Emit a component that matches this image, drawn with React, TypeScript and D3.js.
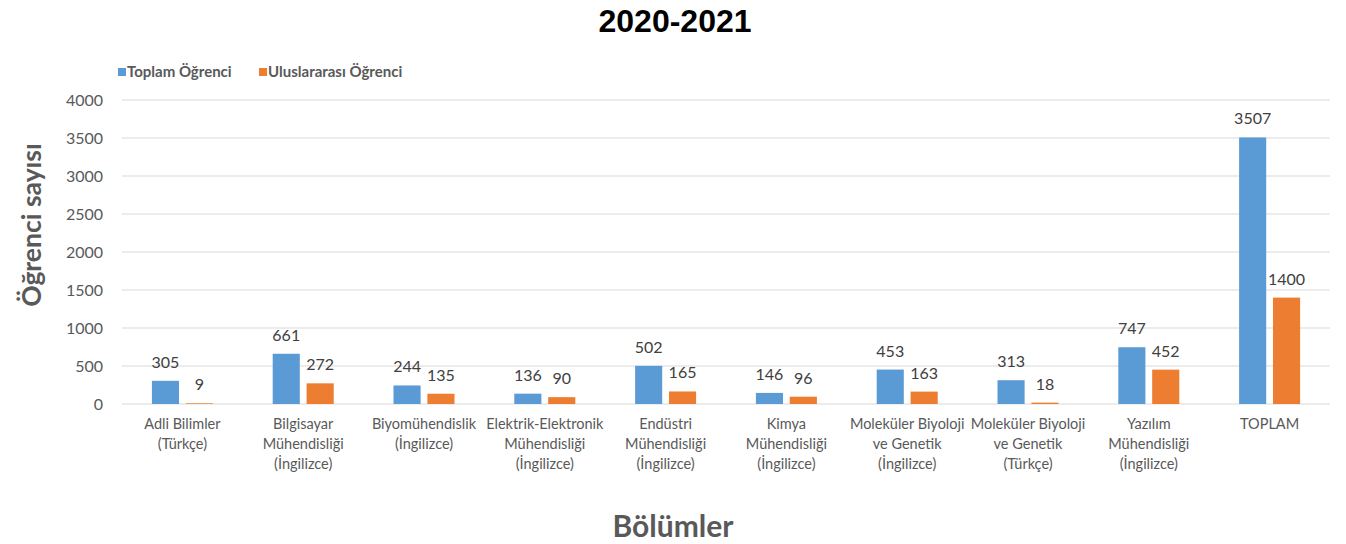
import React from 'react';
import * as d3 from 'd3';

// chart data
const categories = [
  'Adli Bilimler\n(Türkçe)',
  'Bilgisayar\nMühendisliği\n(İngilizce)',
  'Biyomühendislik\n(İngilizce)',
  'Elektrik-Elektronik\nMühendisliği\n(İngilizce)',
  'Endüstri\nMühendisliği\n(İngilizce)',
  'Kimya\nMühendisliği\n(İngilizce)',
  'Moleküler Biyoloji\nve Genetik\n(İngilizce)',
  'Moleküler Biyoloji\nve Genetik\n(Türkçe)',
  'Yazılım\nMühendisliği\n(İngilizce)',
  'TOPLAM',
];
const seriesNames = ['Toplam Öğrenci', 'Uluslararası Öğrenci'];
const toplamOgrenci = [305, 661, 244, 136, 502, 146, 453, 313, 747, 3507];
const uluslararasiOgrenci = [9, 272, 135, 90, 165, 96, 163, 18, 452, 1400];
const yTicks = [0, 500, 1000, 1500, 2000, 2500, 3000, 3500, 4000];
const colors = ['#5B9BD5', '#ED7D31'];

const W = 1346;
const H = 544;
const font = 'Lato, "Open Sans", sans-serif';

const App: React.FC = () => {
  const margin = { top: 100, right: 16, bottom: 140, left: 122 };

  const x0 = d3.scaleBand<string>()
    .domain(categories)
    .range([margin.left, W - margin.right])
    .paddingInner(0.495)
    .paddingOuter(0.2475);

  const x1 = d3.scaleBand<string>()
    .domain(seriesNames)
    .range([0, x0.bandwidth()])
    .paddingInner(0.2);

  const y = d3.scaleLinear()
    .domain([0, 4000])
    .range([H - margin.bottom, margin.top]);

  const series = [toplamOgrenci, uluslararasiOgrenci];

  return (
    <svg width={W} height={H} style={{ position: 'absolute', left: 0, top: 0, background: '#fff' }}>
      {/* title */}
      <text x={W / 2 + 2} y={32} textAnchor="middle" fontFamily='"Liberation Sans", Arial, sans-serif'
        fontWeight="bold" fontSize={32} fill="#000">2020-2021</text>

      {/* legend */}
      {seriesNames.map((name, i) => {
        const lx = i === 0 ? 118 : 259;
        return (
          <g key={name} transform={`translate(${lx},72)`}>
            <rect x={0} y={-4} width={8} height={8} fill={colors[i]} />
            <text x={9} y={5} fontFamily={font} fontWeight="bold" fontSize={15} fill="#595959">{name}</text>
          </g>
        );
      })}

      {/* grid */}
      {yTicks.map(t => (
        <g key={t}>
          <line x1={margin.left} x2={W - margin.right} y1={y(t)} y2={y(t)}
            stroke="#d9d9d9" strokeWidth={1} />
          <text x={103} y={y(t) + 5.5} textAnchor="end" fontFamily={font} fontSize={16} fill="#595959">{t}</text>
        </g>
      ))}

      {/* bars */}
      {categories.map((c, ci) => (
        <g key={c} transform={`translate(${x0(c)},0)`}>
          {seriesNames.map((s, si) => {
            const v = series[si][ci];
            const bx = x1(s)!;
            return (
              <g key={s}>
                <rect x={bx} y={y(v)} width={x1.bandwidth()} height={y(0) - y(v)} fill={colors[si]} />
                <text x={bx + x1.bandwidth() / 2} y={y(v) - 13} textAnchor="middle"
                  fontFamily={font} fontSize={16} fill="#404040">{v}</text>
              </g>
            );
          })}
        </g>
      ))}

      {/* x labels */}
      {categories.map(c => (
        <text key={c} x={x0(c)! + x0.bandwidth() / 2} y={429} textAnchor="middle"
          fontFamily={font} fontSize={14.5} fill="#595959">
          {c.split('\n').map((line, i) => (
            <tspan key={i} x={x0(c)! + x0.bandwidth() / 2} dy={i === 0 ? 0 : 20}>{line}</tspan>
          ))}
        </text>
      ))}

      {/* axis titles */}
      <text transform="translate(41,225) rotate(-90)" textAnchor="middle" fontFamily={font}
        fontWeight="bold" fontSize={26.5} fill="#595959">Öğrenci sayısı</text>
      <text x={W / 2} y={537} textAnchor="middle" fontFamily={font}
        fontWeight="bold" fontSize={30} fill="#595959">Bölümler</text>
    </svg>
  );
};

export default App;
